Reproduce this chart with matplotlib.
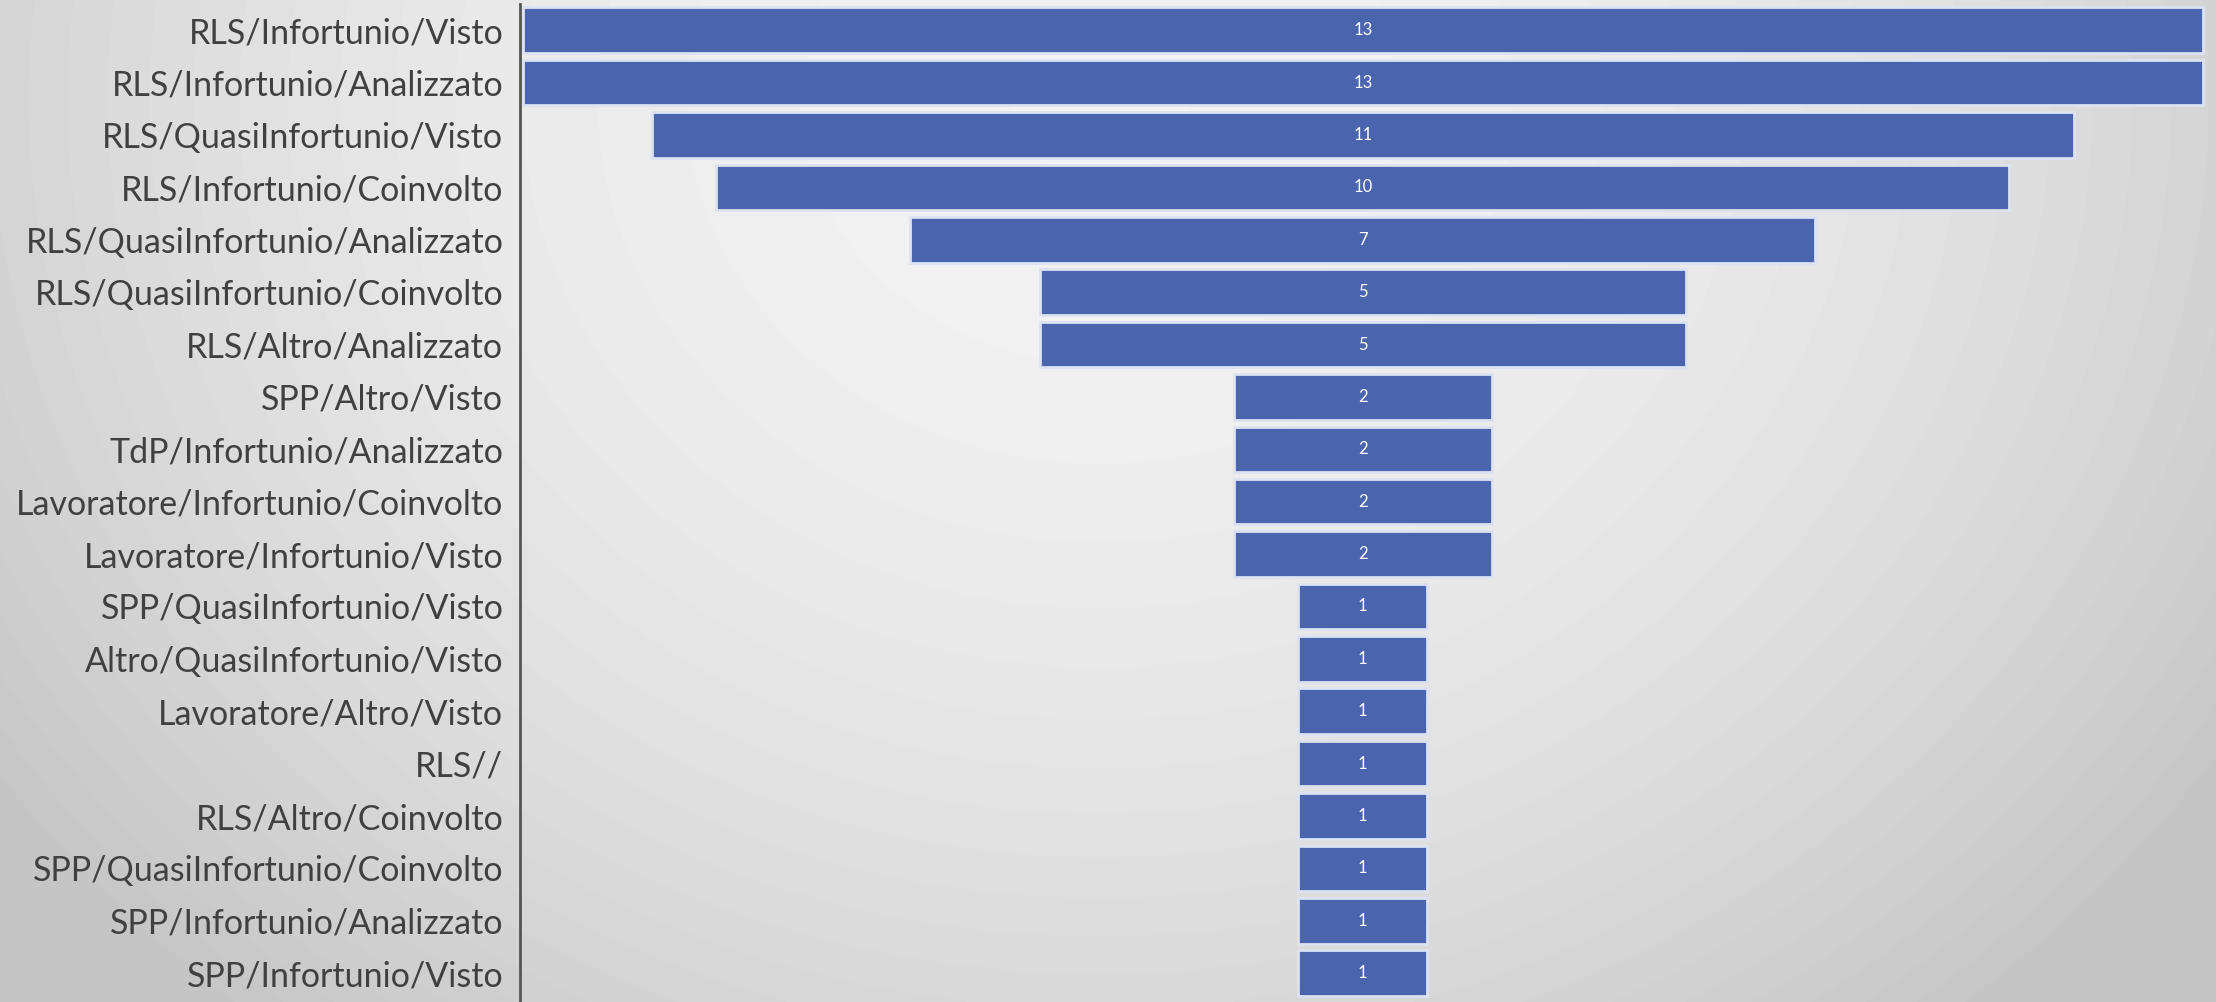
import numpy as np
import matplotlib.pyplot as plt

# funnel of report counts per role / event type / action
categories = [
    "RLS/Infortunio/Visto",
    "RLS/Infortunio/Analizzato",
    "RLS/QuasiInfortunio/Visto",
    "RLS/Infortunio/Coinvolto",
    "RLS/QuasiInfortunio/Analizzato",
    "RLS/QuasiInfortunio/Coinvolto",
    "RLS/Altro/Analizzato",
    "SPP/Altro/Visto",
    "TdP/Infortunio/Analizzato",
    "Lavoratore/Infortunio/Coinvolto",
    "Lavoratore/Infortunio/Visto",
    "SPP/QuasiInfortunio/Visto",
    "Altro/QuasiInfortunio/Visto",
    "Lavoratore/Altro/Visto",
    "RLS//",
    "RLS/Altro/Coinvolto",
    "SPP/QuasiInfortunio/Coinvolto",
    "SPP/Infortunio/Analizzato",
    "SPP/Infortunio/Visto",
]
counts = [13, 13, 11, 10, 7, 5, 5, 2, 2, 2, 2, 1, 1, 1, 1, 1, 1, 1, 1]

bar_color = "#4a64ae"
text_color = "#404040"
plt.rcParams["font.family"] = ["Lato", "DejaVu Sans"]

fig = plt.figure(figsize=(22.16, 10.02), dpi=100)

# soft grey radial background, light at the top middle
bg = fig.add_axes([0, 0, 1, 1], zorder=0)
yy, xx = np.mgrid[0:1002, 0:2216]
r = np.sqrt(((xx - 1100) / 1250.0) ** 2 + ((yy - 100) / 1100.0) ** 2)
shade = np.clip(0.95 - 0.15 * r ** 2, 0.77, 0.95)
bg.imshow(shade, cmap="gray", vmin=0, vmax=1, aspect="auto", extent=[0, 1, 0, 1])
bg.axis("off")

ax = fig.add_axes([520 / 2216, 0, 1 - 520 / 2216, 0.996], zorder=1)
ax.patch.set_alpha(0)

y = np.arange(len(categories))
vals = np.array(counts, dtype=float)
ax.barh(y, vals, left=-vals / 2, height=0.87, color=bar_color,
        edgecolor="#dbe2f2", linewidth=2.0)

for yi, v in zip(y, counts):
    ax.text(0, yi, str(v), ha="center", va="center", color="white", fontsize=12)

ax.set_yticks(y)
ax.set_yticklabels(categories, fontsize=24.5, color=text_color)
ax.tick_params(axis="y", length=0, pad=12)
ax.set_xticks([])
ax.set_xlim(-6.52, 6.60)
ax.set_ylim(18.55, -0.5)

for side in ["top", "right", "bottom"]:
    ax.spines[side].set_visible(False)
ax.spines["left"].set_color("#555555")
ax.spines["left"].set_linewidth(2)

fig.savefig("out.png", dpi=100)
